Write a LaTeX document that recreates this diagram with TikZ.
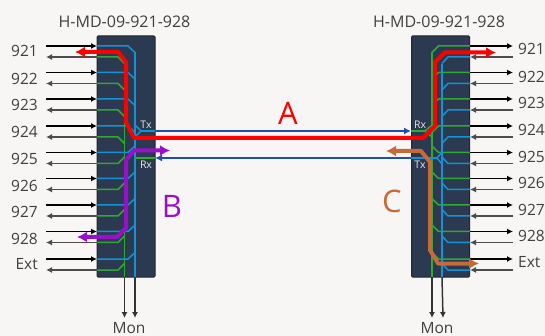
\documentclass[tikz,border=0pt]{standalone}
\usepackage{fontspec}
\setmainfont{Open Sans}
\usetikzlibrary{arrows.meta}
\definecolor{bgc}{HTML}{F7F6F4}
\definecolor{boxc}{HTML}{2B3A50}
\definecolor{lblue}{HTML}{1393D3}
\definecolor{lgreen}{HTML}{2FA836}
\definecolor{dblue}{HTML}{1F4FA8}
\definecolor{pur}{HTML}{9A10C8}
\definecolor{ora}{HTML}{C8693A}
\definecolor{txt}{HTML}{404040}
\tikzset{
  card/.style={draw=black!85,line width=1pt,fill=boxc,rounded corners=1pt,inner sep=0pt,minimum width=58pt,minimum height=241pt},
  lab/.style={text=txt,font=\fontsize{15.5}{17}\selectfont,inner sep=0pt},
  title/.style={text=txt,font=\fontsize{16}{17}\selectfont,inner sep=0pt},
  big/.style={font=\fontsize{31}{32}\selectfont,inner sep=0pt},
  port/.style={text=white!90!black,font=\fontsize{10.5}{11}\selectfont,inner sep=0pt},
  inarrow/.style={black,line width=1.3pt,-{Latex[length=6pt,width=6pt]}},
  outarrow/.style={black!70,line width=1.5pt,-{Latex[length=6pt,width=6pt]}},
  bl/.style={lblue,line width=1.5pt},
  gr/.style={lgreen,line width=1.5pt},
  link/.style={dblue,line width=2pt,-{Latex[length=7pt,width=7pt]}},
  fat/.style={line width=4pt,line join=round,{Latex[length=10pt,width=11pt]}-{Latex[length=10pt,width=11pt]}}
}
\begin{document}
\begin{tikzpicture}[x=1pt,y=-1pt]
\fill[bgc] (0,0) rectangle (545,336);
\useasboundingbox (0,0) rectangle (545,336);
\node[card] (L) at (126,156.5) {};
\node[card] (R) at (440.5,156.5) {};
\node[title] (tl) at (124.5,22) {H-MD-09-921-928};
\node[title] (tr) at (439,22) {H-MD-09-921-928};
% left internals
\coordinate (LBt) at (135,52); \coordinate (LBb) at (135,277);
\coordinate (LGt) at (124.5,62); \coordinate (LGb) at (124.5,277);
\draw[bl] (LBt) -- (LBb);
\draw[gr] (LGt) -- (LGb);
\foreach \n/\u/\s/\lab/\ly/\ry in {1/46/1/921/51/49,2/72.5/1/922/79/77,3/99/1/923/105/103,4/126/1/924/132/130,5/152.5/-1/925/159/157,6/178.5/-1/926/186/183,7/205/-1/927/212/210,8/231.5/-1/928/239/236,9/259/-1/Ext/264/262}{
  \pgfmathsetmacro\d{\u+11}
  \pgfmathsetmacro\sb{\u+\s*6.5}
  \pgfmathsetmacro\sg{\d+\s*6.5}
  % left side
  \coordinate (la\n) at (46,\u); \coordinate (lb\n) at (46,\d);
  \coordinate (pa\n) at (97,\u); \coordinate (pb\n) at (97,\d);
  \draw[bl] (pa\n) -- (128,\u) -- (135,\sb);
  \draw[gr] (pb\n) -- (118,\d) -- (124.5,\sg);
  \draw[inarrow] (la\n) -- (pa\n);
  \draw[outarrow] (pb\n) -- (lb\n);
  \node[lab,anchor=east] (ln\n) at (38,\ly) {\lab};
  % right side
  \coordinate (ra\n) at (513,\u); \coordinate (rb\n) at (513,\d);
  \coordinate (qa\n) at (470,\u); \coordinate (qb\n) at (470,\d);
  \draw[gr] (qa\n) -- (438.5,\u) -- (432,\sb);
  \draw[bl] (qb\n) -- (448,\d) -- (442,\sg);
  \draw[inarrow] (qa\n) -- (ra\n);
  \draw[outarrow] (rb\n) -- (qb\n);
  \node[lab,anchor=west] (rn\n) at (518,\ry) {\lab};
}
\coordinate (RGt) at (432,52); \coordinate (RGb) at (432,277);
\coordinate (RBt) at (442,64); \coordinate (RBb) at (442,277);
\draw[gr] (RGt) -- (RGb);
\draw[bl] (RBt) -- (RBb);
% Tx/Rx stubs
\coordinate (LTx) at (141,131); \coordinate (LRx) at (135,158);
\coordinate (LE1) at (155,131); \coordinate (LE2) at (155,158);
\coordinate (RE1) at (411,131); \coordinate (RE2) at (411,158);
\coordinate (RRx) at (425,131); \coordinate (RTx) at (437,158);
\draw[bl] (LE1) -- (LTx);
\draw[gr] (LE2) -- (LRx);
\draw[bl] (135,125) -- (LTx) -- (135,137);
\draw[gr] (RE1) -- (RRx);
\draw[gr] (432,125) -- (RRx) -- (432,137);
\draw[bl] (RE2) -- (RTx);
\draw[bl] (442,152) -- (RTx) -- (442,164);
\draw[link] (LE1) -- (RE1);
\draw[link] (RE2) -- (LE2);
\coordinate (M1) at (124.5,318); \coordinate (M2) at (135,318);
\coordinate (M3) at (432,318); \coordinate (M4) at (443,318);
\draw[outarrow,black!80] (LGb) -- (M1);
\draw[outarrow,black!80] (LBb) -- (M2);
\draw[outarrow,black!80] (RGb) -- (M3);
\draw[outarrow,black!80] (RBb) -- (M4);
\node[lab] (ml) at (129,328) {Mon};
\node[lab] (mr) at (437,328) {Mon};
\node[port] (t1) at (146,125) {Tx};
\node[port] (r1) at (146,165) {Rx};
\node[port] (r2) at (420,125) {Rx};
\node[port] (t2) at (420,165) {Tx};
% paths
\coordinate (redL) at (75,52); \coordinate (redR) at (496,52.5);
\draw[red,fat] (redL) -- (118,52) -- (126,62) -- (126,122) -- (134,138) -- (423,138) -- (435,126) -- (435,62) -- (445,52.5) -- (redR);
\coordinate (purS) at (170,150.5); \coordinate (purE) at (77,237);
\draw[pur,fat] (purS) -- (134,150.5) -- (126,160) -- (126,228) -- (117,237) -- (purE);
\coordinate (oraS) at (386,151); \coordinate (oraE) at (479,263.5);
\draw[ora,fat] (oraS) -- (421,151) -- (430,162) -- (430,250) -- (438,263.5) -- (oraE);
\node[big,text=red] (A) at (288,113) {A};
\node[big,text=pur] (B) at (172,206) {B};
\node[big,text=ora] (C) at (392,201) {C};
\end{tikzpicture}
\end{document}
